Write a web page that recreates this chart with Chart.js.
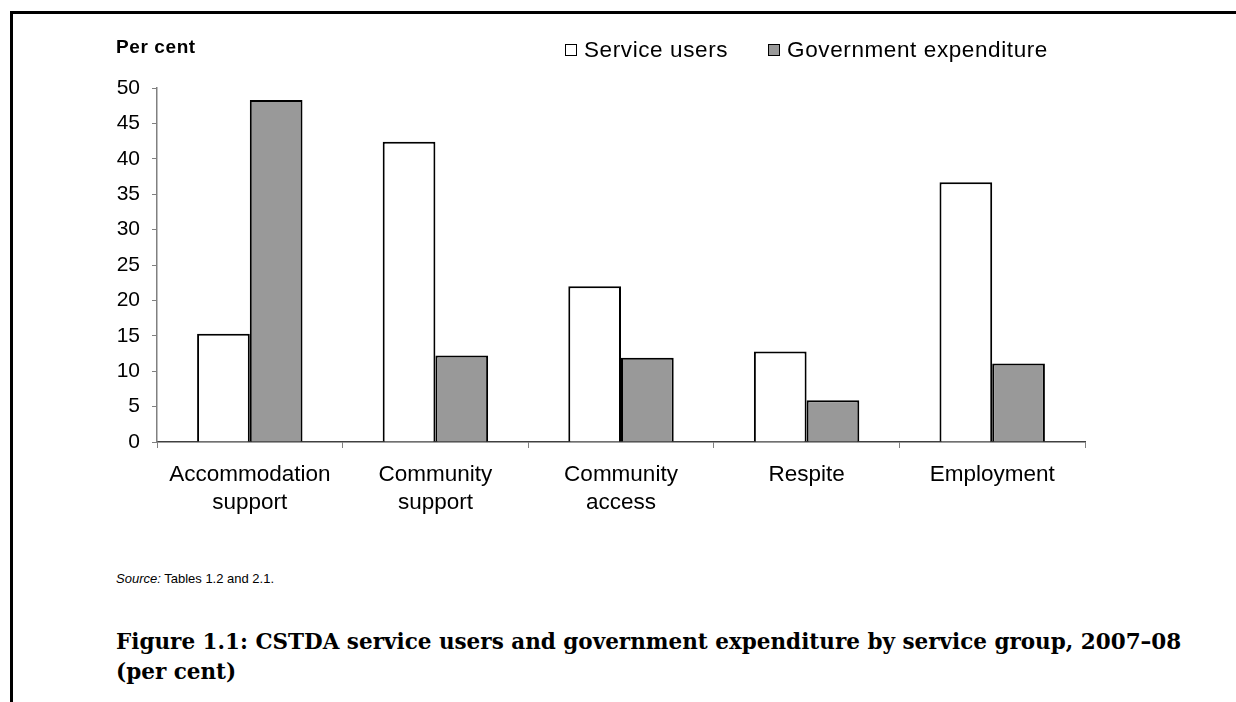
<!DOCTYPE html>
<html>
<head>
<meta charset="utf-8">
<script src="https://cdn.jsdelivr.net/npm/chart.js@4"></script>
<style>
  body { margin: 0; background: #fff; width: 1236px; height: 702px; overflow: hidden; position: relative; font-family: "Liberation Sans", Arial, sans-serif; }
  #frame { position: absolute; left: 10px; top: 11px; right: -5px; bottom: -5px; border-top: 3px solid #000; border-left: 3px solid #000; }
  #wrap { position: absolute; left: 0; top: 0; width: 1236px; height: 560px; }
  #yTitle { position: absolute; left: 116px; top: 36px; font-weight: bold; font-size: 19px; letter-spacing: 0.6px; }
  #legend { position: absolute; left: 565px; top: 37px; font-size: 22.5px; letter-spacing: 0.6px; white-space: nowrap; }
  #legend span.item { display: inline-block; margin-right: 40px; }
  #legend i { display: inline-block; width: 10px; height: 10px; border: 1px solid #000; margin-right: 7px; vertical-align: 1px; }
  #source { position: absolute; left: 116px; top: 571px; font-size: 13px; }
  #caption { position: absolute; left: 116px; top: 627px; width: 1110px; font-family: "DejaVu Serif", serif; font-weight: bold; font-size: 21.5px; line-height: 30px; white-space: nowrap; }
</style>
</head>
<body>
<div id="frame"></div>
<div id="wrap"><canvas id="chart"></canvas></div>
<div id="yTitle">Per cent</div>
<div id="legend"></div>
<div id="source"><i>Source:</i> Tables 1.2 and 2.1.</div>
<div id="caption">Figure 1.1: CSTDA service users and government expenditure by service group, 2007–08<br>(per cent)</div>
<script>
// categories and series
const categories = [['Accommodation', 'support'], ['Community', 'support'], ['Community', 'access'], ['Respite'], ['Employment']];
const serviceUsers = [15.3, 42.4, 22.0, 12.8, 36.7];
const govExpenditure = [48.3, 12.2, 11.9, 5.9, 11.1];
const seriesNames = ['Service users', 'Government expenditure'];
const seriesColors = ['#ffffff', '#999999'];
const yTicks = [0, 5, 10, 15, 20, 25, 30, 35, 40, 45, 50];

const yFont = { family: '"Liberation Sans", Arial, sans-serif', size: 21 };
const xFont = { family: '"Liberation Sans", Arial, sans-serif', size: 22.5, lineHeight: 1.25 };

const chart = new Chart(document.getElementById('chart').getContext('2d'), {
  type: 'bar',
  data: {
    labels: categories,
    datasets: [
      { label: seriesNames[0], data: serviceUsers, backgroundColor: seriesColors[0], borderColor: '#000', borderWidth: 2 },
      { label: seriesNames[1], data: govExpenditure, backgroundColor: seriesColors[1], borderColor: '#000', borderWidth: 2 }
    ]
  },
  options: {
    responsive: true,
    maintainAspectRatio: false,
    animation: false,
    layout: { padding: { left: 0, top: 88, right: 151, bottom: 0 } },
    datasets: { bar: { categoryPercentage: 0.568, barPercentage: 1.0 } },
    plugins: { legend: { display: false }, tooltip: { enabled: false } },
    scales: {
      x: {
        grid: { drawOnChartArea: false, drawTicks: true, tickLength: 6, color: '#808080', offset: true },
        border: { color: '#404040', width: 1.5 },
        ticks: { color: '#000', font: xFont, padding: 13, maxRotation: 0, autoSkip: false },
        afterFit: function(s) { s.height = 118; }
      },
      y: {
        min: 0,
        max: 50,
        afterBuildTicks: function(s) { s.ticks = yTicks.map(v => ({ value: v })); },
        grid: { drawOnChartArea: false, drawTicks: true, tickLength: 5, color: '#808080' },
        border: { color: '#808080', width: 1.5 },
        ticks: { color: '#000', font: yFont, padding: 12 },
        afterFit: function(s) { s.width = 157; }
      }
    }
  }
});

// legend built from the dataset names
const legend = document.getElementById('legend');
seriesNames.forEach((name, i) => {
  const item = document.createElement('span');
  item.className = 'item';
  item.innerHTML = '<i style="background:' + seriesColors[i] + '"></i>' + name;
  legend.appendChild(item);
});
</script>
</body>
</html>
